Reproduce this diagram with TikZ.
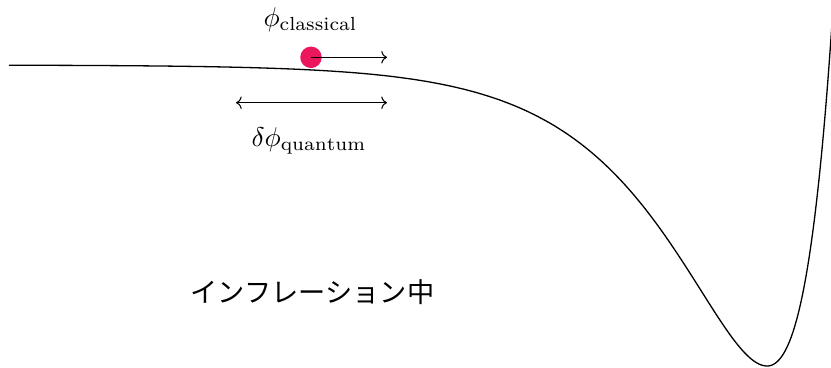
\documentclass[tikz,border=0pt]{standalone}
\usepackage{fontspec}
\newfontfamily\cjk{Noto Sans CJK JP}
\usetikzlibrary{arrows.meta}
\definecolor{ballred}{RGB}{236,22,92}
\begin{document}
\begin{tikzpicture}[x=1bp,y=1bp,
  curve/.style={line width=1.3bp, black},
  cmtip/.tip={Computer Modern Rightarrow[length=5.7bp,width=12.5bp]},
  arr/.style={line width=1.05bp, -cmtip},
  darr/.style={line width=1.05bp, cmtip-cmtip},
  lbl/.style={inner sep=0pt, anchor=base},
  jlbl/.style={inner sep=0pt, font=\cjk\fontsize{27.2bp}{32bp}\selectfont}]
\useasboundingbox (0,0) rectangle (831,-367);
\begin{scope}
\clip (0,0) rectangle (831,-367);
\draw[curve] plot[domain=9:767,samples=300] (\x,{-(366-301*(1-exp((\x-767)/95))*(1-exp((\x-767)/95)))})
  -- plot[domain=767:834,samples=80] (\x,{-(366-301*(1-exp((\x-767)/89.5))*(1-exp((\x-767)/89.5)))});
\end{scope}
\node[circle, fill=ballred, minimum size=21.5bp, inner sep=0pt] (ball) at (311,-57.3) {};
\coordinate (aend) at (387,-57.3);
\draw[arr] (ball.center) -- (aend);
\coordinate (dl) at (236,-102.7);
\coordinate (dr) at (387,-102.7);
\draw[darr] (dl) -- (dr);
\node[lbl] (phic) at (310.5,-26.5) {\scalebox{2.72}{$\phi_{\mathrm{classical}}$}};
\node[lbl] (dphi) at (309,-146.5) {\scalebox{2.72}{$\delta\phi_{\mathrm{quantum}}$}};
\node[jlbl] (infl) at (312.5,-291.7) {インフレーション中};
\end{tikzpicture}
\end{document}
